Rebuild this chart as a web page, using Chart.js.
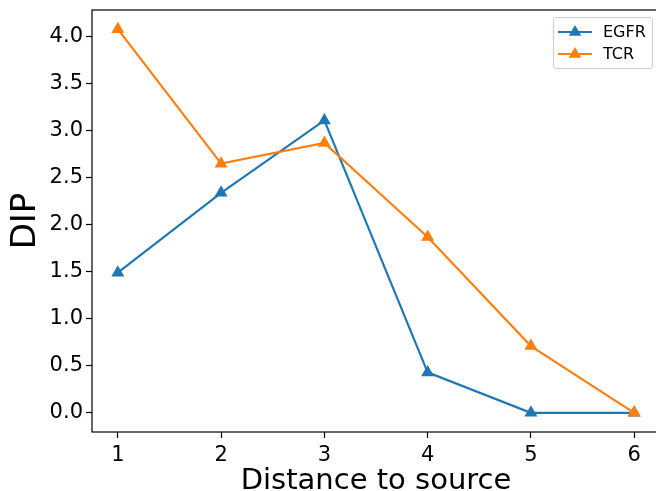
<!DOCTYPE html>
<html>
<head>
<meta charset="utf-8">
<script src="https://cdn.jsdelivr.net/npm/chart.js@4/dist/chart.umd.min.js"></script>
<style>
  html, body { margin: 0; padding: 0; background: #fff; overflow: hidden; }
  #wrap { width: 656px; height: 491px; overflow: hidden; }
</style>
</head>
<body>
<div id="wrap"><canvas id="myChart" width="670" height="491"></canvas></div>
<script>
// values
const distances = [1, 2, 3, 4, 5, 6];
const egfr = [1.49, 2.34, 3.11, 0.43, 0.0, 0.0];
const tcr = [4.08, 2.65, 2.87, 1.87, 0.71, 0.0];
const xTicks = [1, 2, 3, 4, 5, 6];

const blue = '#1f77b4';
const orange = '#ff7f0e';
const font = "'DejaVu Sans', sans-serif";

// box around the plot + legend box in the top right corner
const framePlugin = {
  id: 'frame',
  afterDraw(chart) {
    const ctx = chart.ctx;
    const a = chart.chartArea;
    ctx.save();
    ctx.strokeStyle = '#000';
    ctx.lineWidth = 1.2;
    ctx.strokeRect(a.left, a.top, a.right - a.left, a.bottom - a.top);

    // legend
    const bx = 553, by = 17, bw = 99, bh = 51;
    ctx.fillStyle = 'rgba(255,255,255,0.8)';
    ctx.strokeStyle = '#cccccc';
    ctx.lineWidth = 1;
    ctx.beginPath();
    ctx.roundRect(bx + 0.5, by + 0.5, bw, bh, 3);
    ctx.fill();
    ctx.stroke();
    chart.data.datasets.forEach((ds, i) => {
      const y = 32 + i * 22;
      ctx.strokeStyle = ds.borderColor;
      ctx.lineWidth = 2.2;
      ctx.beginPath();
      ctx.moveTo(558, y);
      ctx.lineTo(592, y);
      ctx.stroke();
      ctx.fillStyle = ds.borderColor;
      ctx.beginPath();
      const r = 7;
      ctx.moveTo(575, y - r);
      ctx.lineTo(575 + r * 0.9, y + r * 0.55);
      ctx.lineTo(575 - r * 0.9, y + r * 0.55);
      ctx.closePath();
      ctx.fill();
      ctx.fillStyle = '#000';
      ctx.font = "16px " + font;
      ctx.textBaseline = 'middle';
      ctx.textAlign = 'left';
      ctx.fillText(ds.label, 603, y + 1);
    });
    ctx.restore();
  }
};

const ctx = document.getElementById('myChart').getContext('2d');

const myChart = new Chart(ctx, {
  type: 'line',
  data: {
    datasets: [{
      label: 'EGFR',
      data: distances.map((d, i) => ({ x: d, y: egfr[i] })),
      borderColor: blue,
      backgroundColor: blue,
      borderWidth: 2.2,
      pointStyle: 'triangle',
      pointRadius: 7.5,
      pointBorderWidth: 0,
      order: 1
    }, {
      label: 'TCR',
      data: distances.map((d, i) => ({ x: d, y: tcr[i] })),
      borderColor: orange,
      backgroundColor: orange,
      borderWidth: 2.2,
      pointStyle: 'triangle',
      pointRadius: 7.5,
      pointBorderWidth: 0,
      order: 0
    }]
  },
  options: {
    responsive: false,
    animation: false,
    layout: { padding: { top: 10, right: 10, left: 0, bottom: 0 } },
    plugins: { legend: { display: false }, tooltip: { enabled: false } },
    scales: {
      x: {
        type: 'linear',
        min: 0.75,
        max: 6.25,
        afterBuildTicks(axis) { axis.ticks = xTicks.map(v => ({ value: v })); },
        afterFit(axis) { axis.height = 59; axis.paddingLeft = 0; axis.paddingRight = 0; },
        border: { display: false },
        grid: { drawOnChartArea: false, tickLength: 6, tickColor: '#000', tickWidth: 1.2 },
        ticks: { color: '#000', font: { family: font, size: 21 }, padding: 5 },
        title: { display: true, text: 'Distance to source', color: '#000', font: { family: font, size: 29 }, padding: { top: 4, bottom: -8 } }
      },
      y: {
        min: -0.204,
        max: 4.284,
        afterBuildTicks(axis) {
          const t = [];
          for (let v = 0; v <= 4.0001; v += 0.5) t.push({ value: Math.round(v * 10) / 10 });
          axis.ticks = t;
        },
        afterFit(axis) { axis.width = 92; axis.paddingTop = 0; axis.paddingBottom = 0; },
        border: { display: false },
        grid: { drawOnChartArea: false, tickLength: 6, tickColor: '#000', tickWidth: 1.2 },
        ticks: { color: '#000', font: { family: font, size: 21 }, padding: 3, callback: v => v.toFixed(1) },
        title: { display: true, text: 'DIP', color: '#000', font: { family: font, size: 34 }, padding: { top: 6, bottom: 0 } }
      }
    }
  },
  plugins: [framePlugin]
});
</script>
</body>
</html>
